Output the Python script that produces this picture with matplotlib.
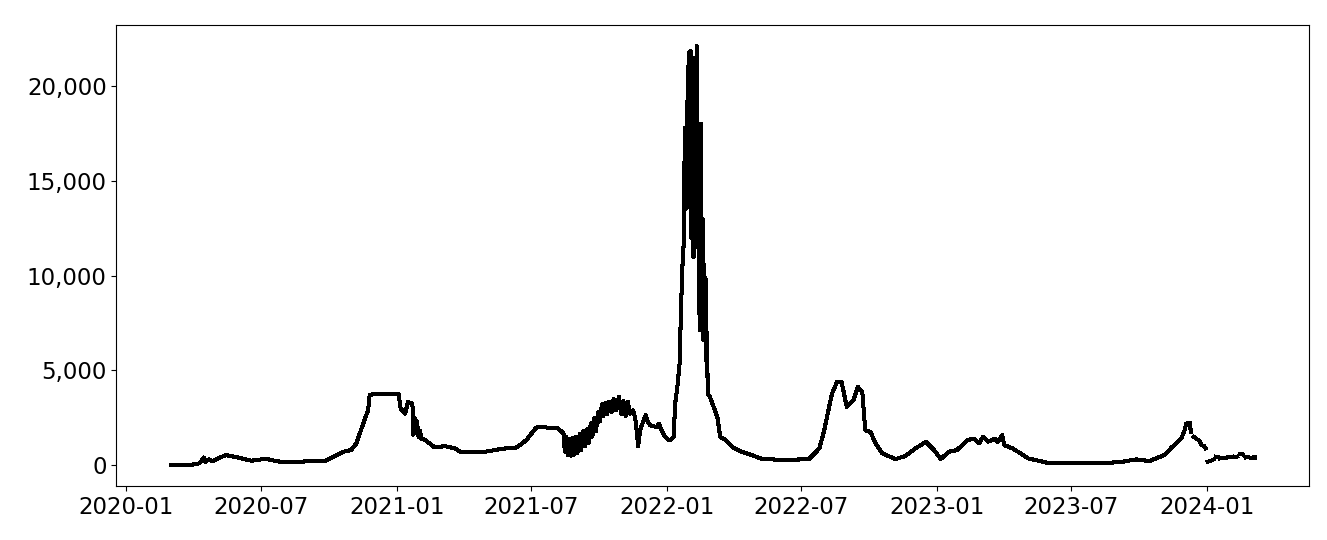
import matplotlib
matplotlib.use("Agg")
import matplotlib.pyplot as plt
import matplotlib.dates as mdates
import matplotlib.ticker as mticker
import numpy as np
import pandas as pd

nan = np.nan

# --- values (approximate) ---
dates_2020 = [
    "2020-03-01", "2020-03-28", "2020-04-09", "2020-04-13", "2020-04-15", "2020-04-17",
    "2020-04-22", "2020-04-26", "2020-05-04", "2020-05-10", "2020-05-15", "2020-05-31",
    "2020-06-18", "2020-07-08", "2020-07-24", "2020-08-16", "2020-09-07", "2020-09-25",
    "2020-10-07", "2020-10-20", "2020-10-31", "2020-11-07", "2020-11-18", "2020-11-23",
    "2020-11-25", "2020-12-02",
]
values_2020 = [
    0, 10, 90, 300, 400, 175,
    300, 200, 350, 450, 525, 400,
    230, 330, 190, 140, 225, 190,
    440, 700, 790, 1140, 2370, 2890,
    3680, 3770,
]

dates_2021 = [
    "2021-01-03", "2021-01-06", "2021-01-12", "2021-01-16", "2021-01-21", "2021-01-22",
    "2021-01-23", "2021-01-25", "2021-01-26", "2021-01-28", "2021-01-30", "2021-02-01",
    "2021-02-03", "2021-02-08", "2021-02-21", "2021-03-07", "2021-03-20", "2021-03-29",
    "2021-04-30", "2021-05-23", "2021-06-12", "2021-06-25", "2021-07-07", "2021-07-11",
    "2021-08-07", "2021-08-14", "2021-08-16", "2021-08-18", "2021-08-20", "2021-08-22",
    "2021-08-24", "2021-08-26", "2021-08-28", "2021-08-31", "2021-09-02", "2021-09-05",
    "2021-09-07", "2021-09-10", "2021-09-12", "2021-09-15", "2021-09-17", "2021-09-20",
    "2021-09-22", "2021-09-25", "2021-09-27", "2021-09-30", "2021-10-02", "2021-10-05",
    "2021-10-07", "2021-10-10", "2021-10-12", "2021-10-15", "2021-10-18", "2021-10-21",
    "2021-10-24", "2021-10-28", "2021-10-31", "2021-11-03", "2021-11-06", "2021-11-09",
    "2021-11-12", "2021-11-16", "2021-11-19", "2021-11-21", "2021-11-23", "2021-11-26",
    "2021-11-30", "2021-12-03", "2021-12-06", "2021-12-09", "2021-12-14", "2021-12-18",
    "2021-12-21", "2021-12-25", "2021-12-29",
]
values_2021 = [
    3770, 2980, 2720, 3330, 3250, 3100,
    1600, 2500, 1700, 2300, 1500, 1800,
    1400, 1320, 930, 1000, 880, 670,
    700, 860, 930, 1320, 1930, 2020,
    1930, 1670, 700, 1500, 520, 1400,
    500, 1450, 550, 1500, 650, 1650,
    800, 1800, 1000, 1900, 1150, 2200,
    1500, 2500, 1800, 2800, 2300, 3200,
    2600, 3300, 2700, 3350, 2800, 3500,
    2900, 3600, 2700, 3400, 2600, 3350,
    2700, 2900, 2500, 1800, 1000, 1900,
    2300, 2630, 2300, 2100, 2050, 2000,
    2190, 1800, 1500,
]

dates_2022 = [
    "2022-01-03", "2022-01-07", "2022-01-10", "2022-01-12", "2022-01-15", "2022-01-18",
    "2022-01-20", "2022-01-22", "2022-01-24", "2022-01-25", "2022-01-26", "2022-01-27",
    "2022-01-28", "2022-01-29", "2022-01-30", "2022-01-31", "2022-02-01", "2022-02-02",
    "2022-02-03", "2022-02-04", "2022-02-05", "2022-02-06", "2022-02-07", "2022-02-08",
    "2022-02-09", "2022-02-10", "2022-02-11", "2022-02-12", "2022-02-13", "2022-02-14",
    "2022-02-15", "2022-02-16", "2022-02-17", "2022-02-18", "2022-02-19", "2022-02-20",
    "2022-02-21", "2022-02-22", "2022-02-23", "2022-02-24", "2022-02-25", "2022-02-26",
    "2022-02-28", "2022-03-05", "2022-03-10", "2022-03-14", "2022-03-21", "2022-03-30",
    "2022-04-12", "2022-04-26", "2022-05-07", "2022-06-06", "2022-07-12", "2022-07-26",
    "2022-08-01", "2022-08-12", "2022-08-19", "2022-08-25", "2022-09-01", "2022-09-10",
    "2022-09-16", "2022-09-22", "2022-09-26", "2022-10-03", "2022-10-10", "2022-10-19",
    "2022-11-06", "2022-11-19", "2022-12-03", "2022-12-17", "2022-12-28",
]
values_2022 = [
    1320, 1350, 1490, 3250, 4120, 5350,
    8330, 10600, 12000, 17800, 13500, 17500,
    14000, 21000, 13600, 21800, 16000, 21840,
    12000, 20500, 11000, 21500, 11000, 18000,
    13000, 22100, 12500, 17000, 8000, 15000,
    7100, 18000, 9000, 13000, 6600, 10600,
    6600, 9900, 5500, 7000, 4000, 3700,
    3600, 3070, 2540, 1490, 1320, 960,
    700, 525, 350, 260, 315, 880,
    1750, 3770, 4390, 4390, 3070, 3420,
    4120, 3860, 1840, 1750, 1140, 615,
    315, 475, 880, 1230, 790,
]

dates_2023 = [
    "2023-01-06", "2023-01-17", "2023-01-28", "2023-02-11", "2023-02-20", "2023-02-27",
    "2023-03-04", "2023-03-11", "2023-03-20", "2023-03-24", "2023-03-30", "2023-04-02",
    "2023-04-13", "2023-04-24", "2023-05-04", "2023-05-15", "2023-06-02", "2023-06-20",
    "2023-08-13", "2023-09-09", "2023-09-27", "2023-10-15", "2023-11-04", "2023-11-15",
    "2023-11-27", "2023-12-01", "2023-12-04", "2023-12-09", "2023-12-10", "2023-12-11",
    "2023-12-14", "2023-12-17", "2023-12-18", "2023-12-21", "2023-12-24", "2023-12-25",
    "2023-12-28", "2023-12-30", "2023-12-31",
]
values_2023 = [
    315, 700, 790, 1320, 1400, 1140,
    1490, 1230, 1400, 1230, 1580, 1050,
    880, 615, 350, 260, 90, 90,
    90, 175, 300, 210, 525, 960,
    1400, 1750, 2190, 2230, 1750, nan,
    1490, 1400, nan, 1300, 1100, nan,
    1000, 880, nan,
]

dates_2024 = [
    "2024-01-02", "2024-01-04", "2024-01-05", "2024-01-08", "2024-01-10", "2024-01-11",
    "2024-01-13", "2024-01-16", "2024-01-17", "2024-01-19", "2024-01-22", "2024-01-23",
    "2024-01-25", "2024-01-28", "2024-01-30", "2024-02-01", "2024-02-04", "2024-02-06",
    "2024-02-08", "2024-02-11", "2024-02-13", "2024-02-15", "2024-02-18", "2024-02-20",
    "2024-02-22", "2024-02-25", "2024-02-27", "2024-02-29", "2024-03-03", "2024-03-06",
]
values_2024 = [
    175, 200, nan, 260, 300, nan,
    440, 420, nan, 350, 360, nan,
    380, 400, nan, 420, 440, nan,
    430, 450, nan, 580, 560, nan,
    400, 420, nan, 390, 400, 400,
]

dates = pd.to_datetime(dates_2020 + dates_2021 + dates_2022 + dates_2023 + dates_2024)
values = np.array(values_2020 + values_2021 + values_2022 + values_2023 + values_2024, dtype=float)

# line in the reference is drawn without antialiasing
plt.rcParams["lines.antialiased"] = False

fig = plt.figure(figsize=(13.27, 5.4), dpi=100)
ax = fig.add_axes([0.0877, 0.1, 0.899, 0.853])

ax.plot(dates, values, color="black", linewidth=2.2)

ax.xaxis.set_major_locator(mdates.MonthLocator(bymonth=[1, 7]))
ax.xaxis.set_major_formatter(mdates.DateFormatter("%Y-%m"))
ax.yaxis.set_major_locator(mticker.MultipleLocator(5000))
ax.yaxis.set_major_formatter(mticker.FuncFormatter(lambda v, _: f"{int(v):,}"))
ax.tick_params(labelsize=16.5)

fig.savefig("out.png", dpi=100)
